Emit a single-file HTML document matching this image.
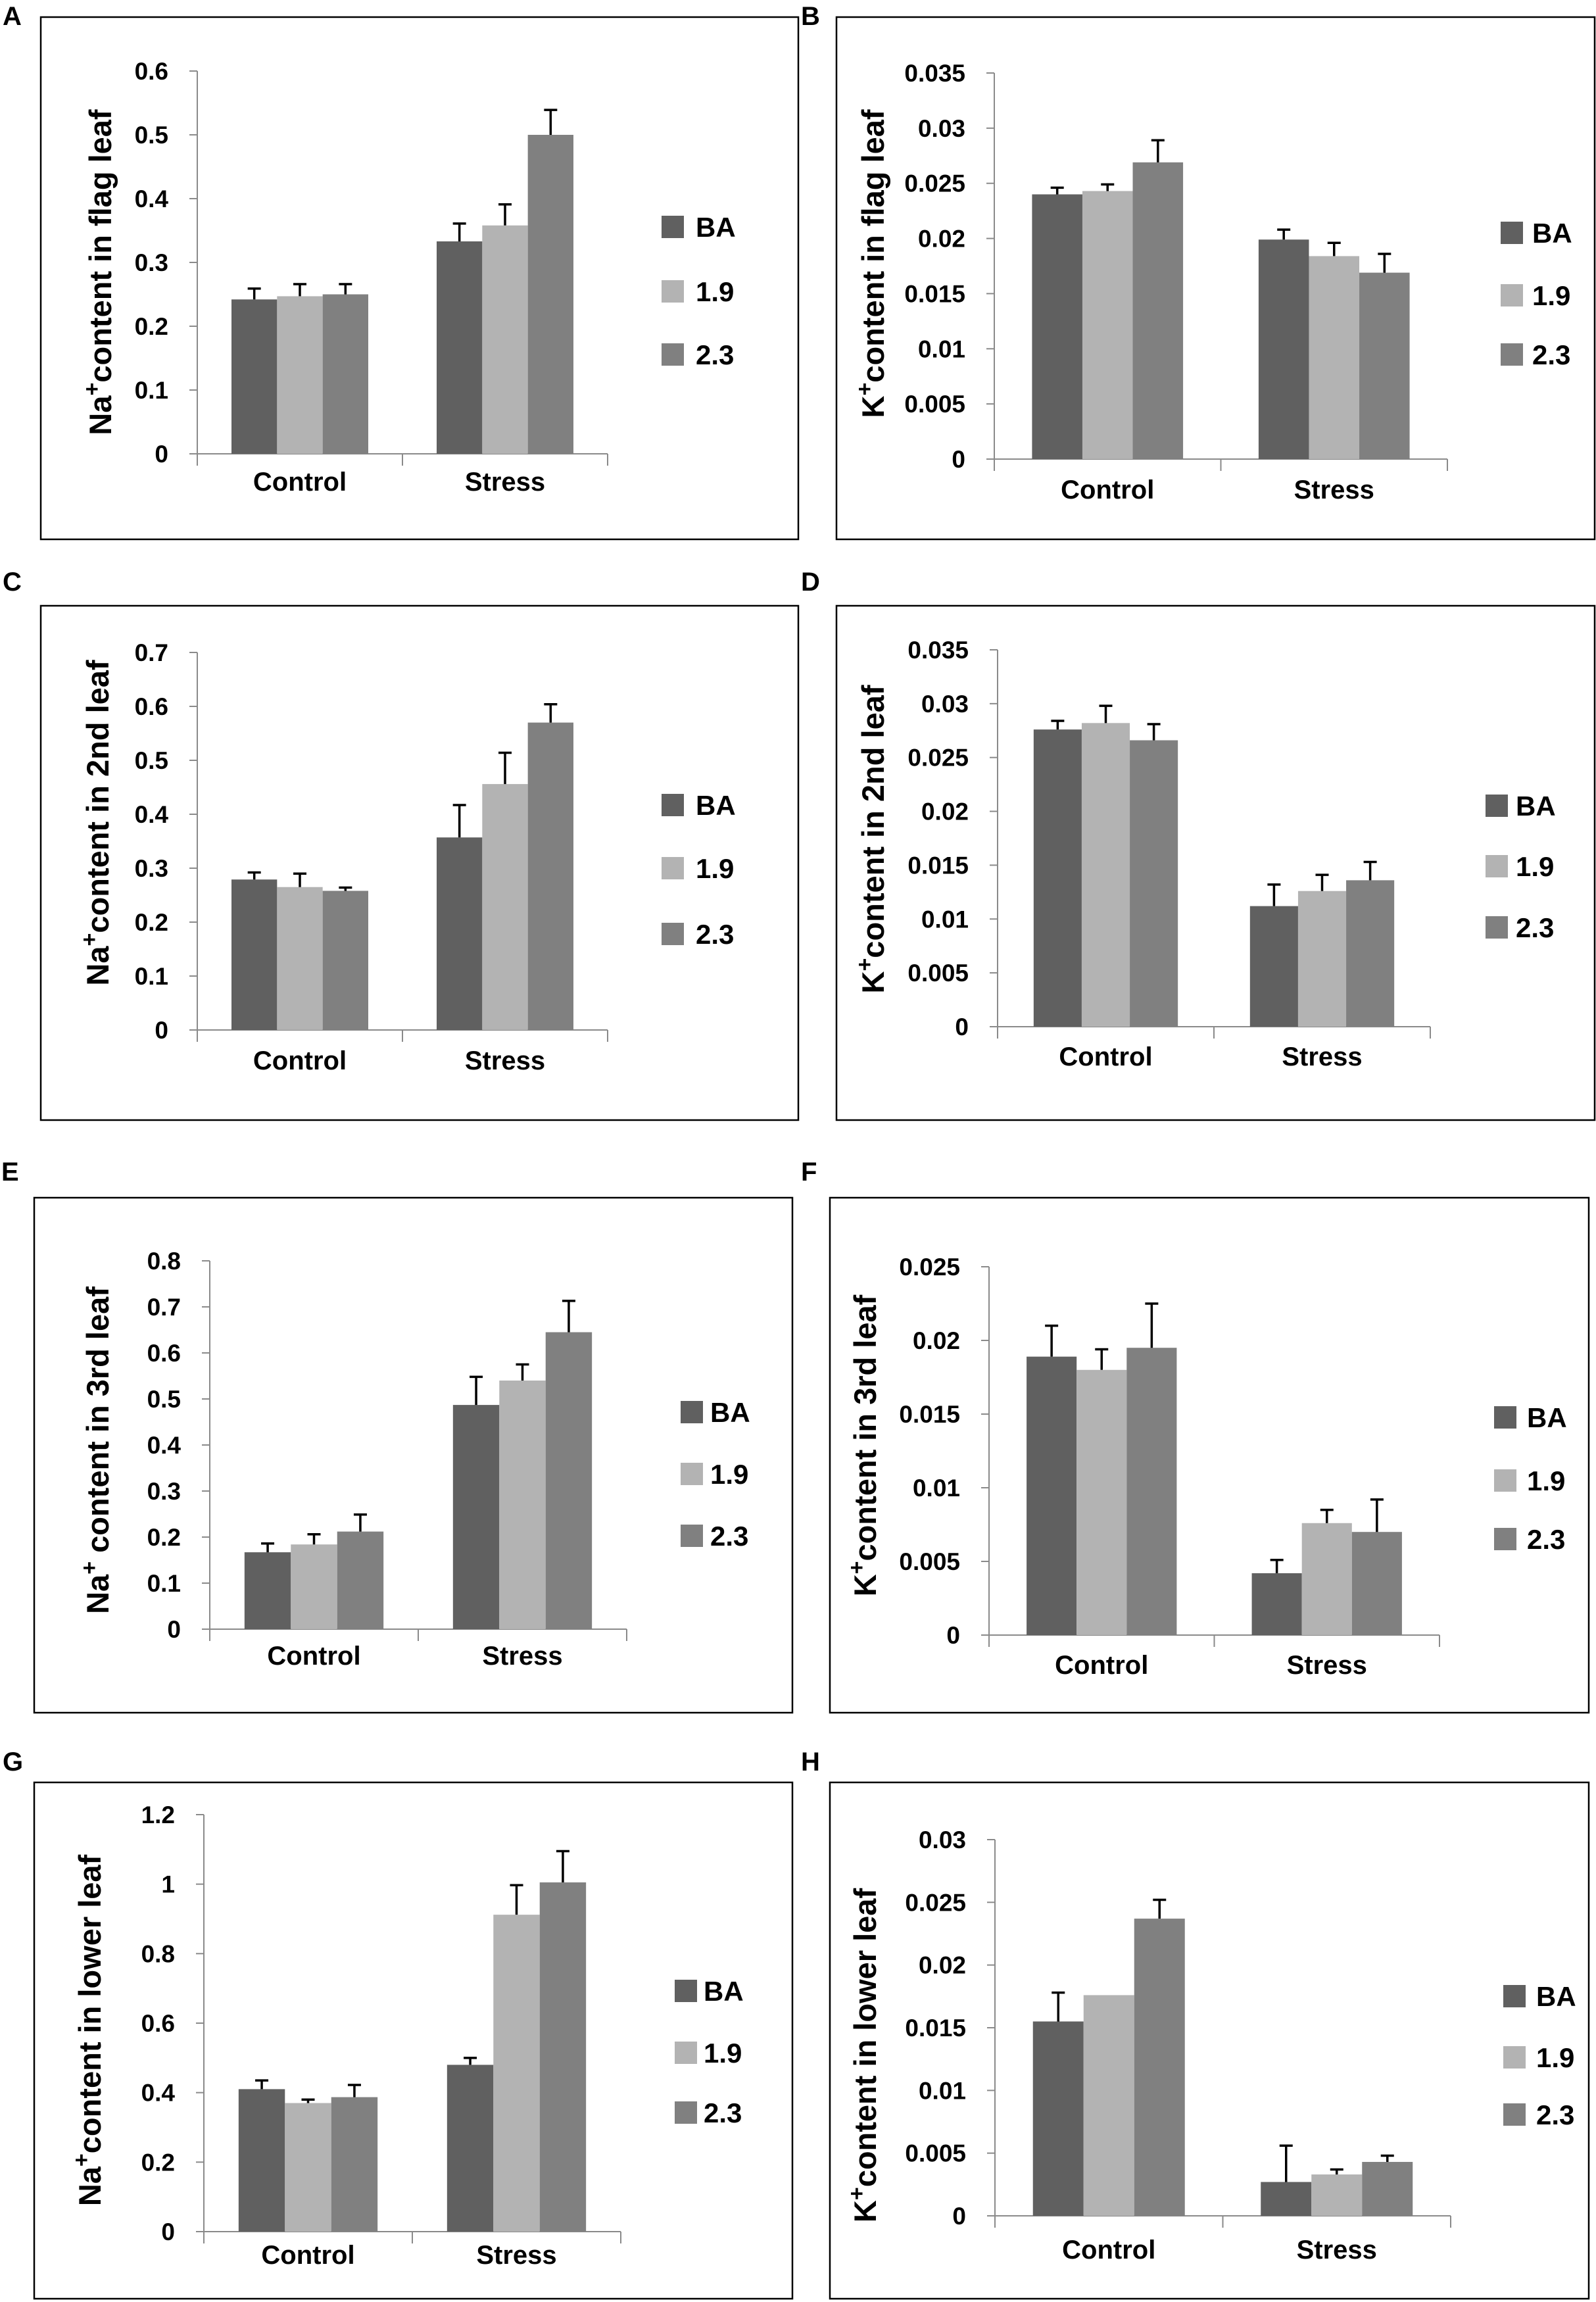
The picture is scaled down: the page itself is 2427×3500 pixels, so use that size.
<!DOCTYPE html>
<html>
<head>
<meta charset="utf-8">
<style>
html,body{margin:0;padding:0;background:#fff;}
svg{display:block;}
text{font-family:"Liberation Sans",Arial,sans-serif;font-weight:bold;fill:#000;}
</style>
</head>
<body>
<svg id="fig" width="2427" height="3500" viewBox="0 0 2427 3500" xmlns="http://www.w3.org/2000/svg"></svg>
<script>
// ---- data ----
const categories = ["Control", "Stress"];
const seriesNames = ["BA", "1.9", "2.3"];
const seriesColors = ["#606060", "#b3b3b3", "#808080"];

const aValues = [[0.242, 0.247, 0.250], [0.333, 0.358, 0.500]];
const aErrors = [[0.017, 0.019, 0.016], [0.028, 0.033, 0.039]];
const aTicks = ["0", "0.1", "0.2", "0.3", "0.4", "0.5", "0.6"];

const bValues = [[0.0240, 0.0243, 0.0269], [0.0199, 0.0184, 0.0169]];
const bErrors = [[0.0006, 0.0006, 0.0020], [0.0009, 0.0012, 0.0017]];
const bTicks = ["0", "0.005", "0.01", "0.015", "0.02", "0.025", "0.03", "0.035"];

const cValues = [[0.279, 0.265, 0.258], [0.357, 0.456, 0.570]];
const cErrors = [[0.013, 0.025, 0.006], [0.060, 0.058, 0.034]];
const cTicks = ["0", "0.1", "0.2", "0.3", "0.4", "0.5", "0.6", "0.7"];

const dValues = [[0.0276, 0.0282, 0.0266], [0.0112, 0.0126, 0.0136]];
const dErrors = [[0.0008, 0.0016, 0.0015], [0.0020, 0.0015, 0.0017]];
const dTicks = ["0", "0.005", "0.01", "0.015", "0.02", "0.025", "0.03", "0.035"];

const eValues = [[0.167, 0.184, 0.212], [0.487, 0.540, 0.645]];
const eErrors = [[0.019, 0.022, 0.037], [0.061, 0.035, 0.068]];
const eTicks = ["0", "0.1", "0.2", "0.3", "0.4", "0.5", "0.6", "0.7", "0.8"];

const fValues = [[0.0189, 0.0180, 0.0195], [0.0042, 0.0076, 0.0070]];
const fErrors = [[0.0021, 0.0014, 0.0030], [0.0009, 0.0009, 0.0022]];
const fTicks = ["0", "0.005", "0.01", "0.015", "0.02", "0.025"];

const gValues = [[0.410, 0.370, 0.387], [0.480, 0.912, 1.005]];
const gErrors = [[0.025, 0.010, 0.035], [0.020, 0.085, 0.090]];
const gTicks = ["0", "0.2", "0.4", "0.6", "0.8", "1", "1.2"];

const hValues = [[0.0155, 0.0176, 0.0237], [0.0027, 0.0033, 0.0043]];
const hErrors = [[0.0023, 0.0000, 0.0015], [0.0029, 0.0004, 0.0005]];
const hTicks = ["0", "0.005", "0.01", "0.015", "0.02", "0.025", "0.03"];

// ---- layout (pixel geometry, not data) ----
const panels = [
 {id:"a", letter:"A", lx:4, ly:38, box:[62,26,1214,820], x0:300, x1:924, yTop:108, yZero:690, catY:746, legX:1006, legTX:1058, legY:[345,443,539], titleX:152, titleY:414, ion:"Na", rest:"content in flag leaf", values:aValues, errors:aErrors, ticks:aTicks},
 {id:"b", letter:"B", lx:1218, ly:38, box:[1272,26,2425,820], x0:1512, x1:2201, yTop:111, yZero:698, catY:758, legX:2282, legTX:2330, legY:[354,449,539], titleX:1327, titleY:401, ion:"K", rest:"content in flag leaf", values:bValues, errors:bErrors, ticks:bTicks},
 {id:"c", letter:"C", lx:4, ly:898, box:[62,921,1214,1703], x0:300, x1:924, yTop:992, yZero:1566, catY:1626, legX:1006, legTX:1058, legY:[1224,1320,1420], titleX:148, titleY:1251, ion:"Na", rest:"content in 2nd leaf", values:cValues, errors:cErrors, ticks:cTicks},
 {id:"d", letter:"D", lx:1218, ly:898, box:[1272,921,2425,1703], x0:1517, x1:2175, yTop:988, yZero:1561, catY:1620, legX:2259, legTX:2305, legY:[1225,1317,1410], titleX:1327, titleY:1276, ion:"K", rest:"content in 2nd leaf", values:dValues, errors:dErrors, ticks:dTicks},
 {id:"e", letter:"E", lx:2, ly:1795, box:[52,1821,1205,2604], x0:319, x1:953, yTop:1917, yZero:2477, catY:2531, legX:1035, legTX:1080, legY:[2147,2241,2335], titleX:148, titleY:2205, ion:"Na", rest:" content in 3rd leaf", values:eValues, errors:eErrors, ticks:eTicks},
 {id:"f", letter:"F", lx:1218, ly:1795, box:[1262,1821,2416,2604], x0:1504, x1:2189, yTop:1926, yZero:2486, catY:2545, legX:2272, legTX:2322, legY:[2155,2251,2340], titleX:1315, titleY:2198, ion:"K", rest:"content in  3rd leaf", values:fValues, errors:fErrors, ticks:fTicks},
 {id:"g", letter:"G", lx:4, ly:2692, box:[52,2710,1205,3495], x0:310, x1:944, yTop:2759, yZero:3393, catY:3442, legX:1026, legTX:1070, legY:[3027,3121,3212], titleX:136, titleY:3087, ion:"Na", rest:"content in lower leaf", values:gValues, errors:gErrors, ticks:gTicks},
 {id:"h", letter:"H", lx:1218, ly:2692, box:[1262,2710,2416,3495], x0:1513, x1:2206, yTop:2797, yZero:3369, catY:3434, legX:2286, legTX:2336, legY:[3035,3128,3215], titleX:1315, titleY:3125, ion:"K", rest:"content in lower leaf", values:hValues, errors:hErrors, ticks:hTicks}
];

const NS = "http://www.w3.org/2000/svg";
const svg = document.getElementById("fig");
function mk(tag, attrs, parent) {
  const el = document.createElementNS(NS, tag);
  for (const k in attrs) el.setAttribute(k, attrs[k]);
  parent.appendChild(el);
  return el;
}

panels.forEach(p => {
  const g = mk("g", {}, svg);
  
  

  const lab = mk("text", {x:p.lx, y:p.ly, "font-size":40}, g);
  lab.textContent = p.letter;
  
  

  const b = p.box;
  const frame = mk("rect", {x:b[0], y:b[1], width:b[2]-b[0], height:b[3]-b[1], fill:"#fff", stroke:"#000", "stroke-width":2.5}, g);
  
  

  const tickVals = p.ticks.map(Number);
  const vMax = tickVals[tickVals.length - 1];
  const yScale = v => p.yZero - (v / vMax) * (p.yZero - p.yTop);
  const catW = (p.x1 - p.x0) / categories.length;
  const barW = catW / 4.5;
  const xBar = (ci, si) => p.x0 + catW * ci + (catW - 3 * barW) / 2 + si * barW;

  const yAxis = mk("line", {x1:p.x0, y1:p.yTop, x2:p.x0, y2:p.yZero, stroke:"#8a8a8a", "stroke-width":2}, g);
  
  
  p.ticks.forEach((t, i) => {
    const y = yScale(tickVals[i]);
    const tk = mk("line", {x1:p.x0 - 12, y1:y, x2:p.x0, y2:y, stroke:"#8a8a8a", "stroke-width":2}, g);
    
    
    const tl = mk("text", {x:p.x0 - 44, y:y + 13, "font-size":37, "text-anchor":"end"}, g);
    tl.textContent = t;
    
    
  });

  const xAxis = mk("line", {x1:p.x0, y1:p.yZero, x2:p.x1, y2:p.yZero, stroke:"#8a8a8a", "stroke-width":2}, g);
  
  
  for (let i = 0; i <= categories.length; i++) {
    const x = p.x0 + catW * i;
    const xt = mk("line", {x1:x, y1:p.yZero, x2:x, y2:p.yZero + 18, stroke:"#8a8a8a", "stroke-width":2}, g);
    
    
  }
  categories.forEach((c, ci) => {
    const cl = mk("text", {x:p.x0 + catW * (ci + 0.5), y:p.catY, "font-size":40, "text-anchor":"middle"}, g);
    cl.textContent = c;
    
    
  });

  p.values.forEach((row, ci) => {
    row.forEach((v, si) => {
      const x = xBar(ci, si);
      const y = yScale(v);
      const bar = mk("rect", {x:x, y:y, width:barW, height:p.yZero - y, fill:seriesColors[si]}, g);
      
      
      const e = p.errors[ci][si];
      if (e > 0) {
        const cx = x + barW / 2;
        const ye = yScale(v + e);
        const eb = mk("path", {d:"M" + cx + " " + y + "V" + ye + "M" + (cx - 10) + " " + ye + "H" + (cx + 10), stroke:"#000", "stroke-width":3.5, fill:"none"}, g);
        
        
      }
    });
  });

  seriesNames.forEach((s, si) => {
    const cy = p.legY[si];
    const sw = mk("rect", {x:p.legX, y:cy - 17, width:34, height:34, fill:seriesColors[si]}, g);
    
    
    const lt = mk("text", {x:p.legTX, y:cy + 15, "font-size":42}, g);
    lt.textContent = s;
    
    
  });

  const tt = mk("text", {x:0, y:0, "font-size":47, "text-anchor":"middle", transform:"translate(" + (p.titleX + 17) + "," + p.titleY + ") rotate(-90)"}, g);
  
  
  const t1 = mk("tspan", {}, tt); t1.textContent = p.ion;
  const t2 = mk("tspan", {dy:-18, "font-size":34}, tt); t2.textContent = "+";
  const t3 = mk("tspan", {dy:18}, tt); t3.textContent = p.rest;
});
</script>
</body>
</html>
